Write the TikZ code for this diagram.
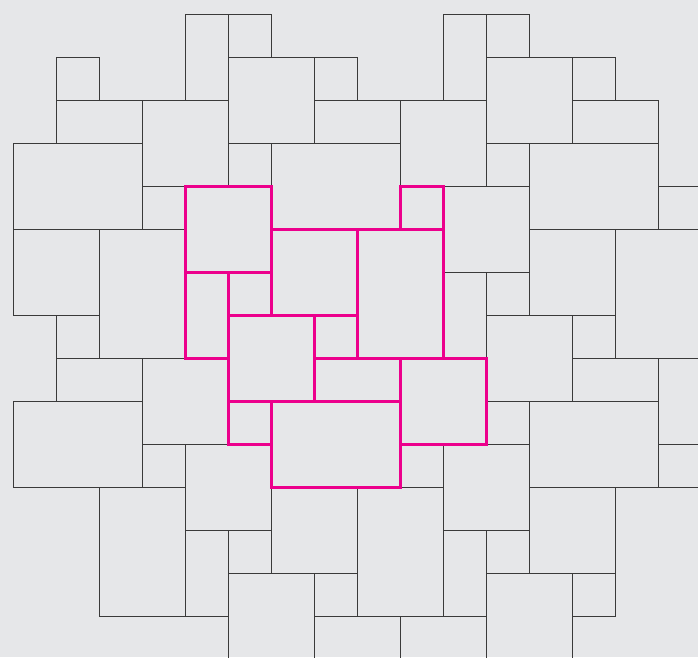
\documentclass[tikz,border=0pt]{standalone}
\definecolor{bg}{HTML}{E6E7E9}
\definecolor{edge}{HTML}{3A3A3A}
\definecolor{hot}{HTML}{EC008C}
\tikzset{
  tile/.style={draw=edge, line width=0.9pt},
  hottile/.style={draw=hot, line width=3pt, line join=miter}
}
\begin{document}
\begin{tikzpicture}[x=1pt,y=-1pt]
\useasboundingbox (0,0) rectangle (698,657);
\fill[bg] (0,0) rectangle (698,657);
\clip (0,0) rectangle (698,657);
% grey tiles (grid units: x = 13+43 i, y = 14+43 j)
\foreach \a/\b/\c/\d in {
  1/1/2/2, 1/2/3/3, 3/2/5/4, 0/3/3/5,
  4/0/5/2, 5/0/6/1, 5/1/7/3, 7/1/8/2, 7/2/9/3, 9/2/11/4, 5/3/6/4, 6/3/9/5,
  10/0/11/2, 11/0/12/1, 11/1/13/3, 13/1/14/2, 13/2/15/3, 11/3/12/4, 12/3/15/5,
  0/5/2/7, 2/5/4/8, 3/4/4/5, 1/7/2/8, 1/8/3/9, 3/8/5/10, 0/9/3/11,
  10/4/12/6, 12/5/14/7, 14/5/16/8, 15/4/16/5, 10/6/11/8, 11/6/12/7, 11/7/13/9,
  13/7/14/8, 13/8/15/9, 15/8/17/10, 11/9/12/10, 12/9/15/11,
  2/11/4/14, 3/10/4/11,
  4/10/6/12, 6/11/8/13, 8/11/10/14, 9/10/10/11, 4/12/5/14, 5/12/6/13,
  5/13/7/15, 7/13/8/14, 7/14/9/15, 9/14/11/16,
  10/10/12/12, 12/11/14/13, 15/10/16/11, 10/12/11/14, 11/12/12/13,
  11/13/13/15, 13/13/14/14}
  \draw[tile] ({13+43*\a},{14+43*\b}) rectangle ({13+43*\c},{14+43*\d});
% highlighted repeat unit
\foreach \a/\b/\c/\d in {
  4/4/6/6, 6/5/8/7, 8/5/10/8, 9/4/10/5, 4/6/5/8, 5/6/6/7,
  5/7/7/9, 7/7/8/8, 7/8/9/9, 9/8/11/10, 5/9/6/10, 6/9/9/11}
  \draw[hottile] ({13+43*\a},{14+43*\b}) rectangle ({13+43*\c},{14+43*\d});
\end{tikzpicture}
\end{document}
